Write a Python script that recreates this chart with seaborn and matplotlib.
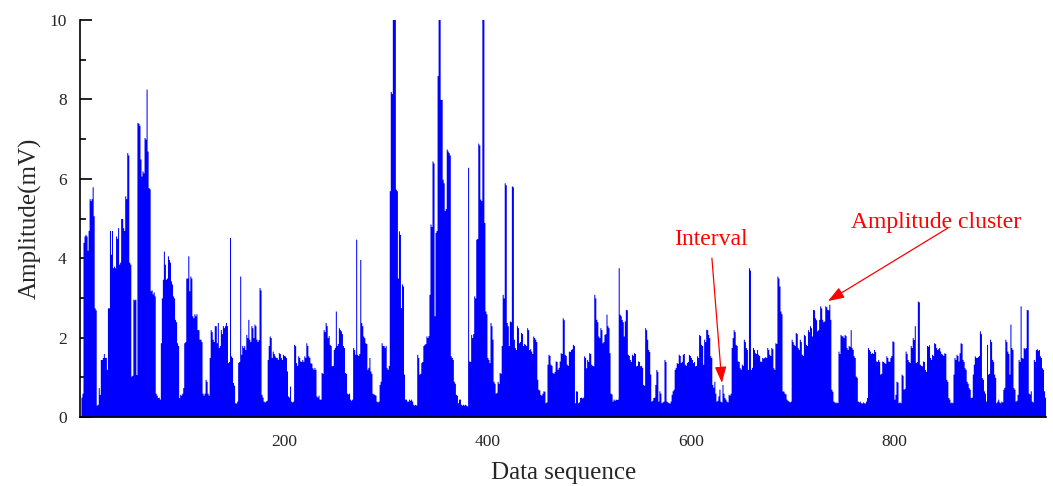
import numpy as np
import pandas as pd
import matplotlib
matplotlib.use("Agg")
import matplotlib.pyplot as plt
import seaborn as sns

# Pulse amplitudes (mV), one value per sample, in sequence order
amp_001_075 = [
    0.5, 0.6, 4.4, 4.56, 4.6, 4.56, 4.2, 4.7, 5.5, 5.45,
    5.5, 5.8, 5.07, 2.75, 2.7, 0.3, 0.32, 0.74, 0.57, 1.45,
    1.45, 1.5, 1.6, 1.5, 1.5, 1.2, 2.75, 2.75, 4.7, 4.1,
    4.7, 3.76, 3.8, 3.76, 4.56, 4.5, 4.77, 3.85, 3.9, 5.0,
    5.0, 4.77, 4.7, 5.57, 5.5, 6.66, 6.6, 3.9, 3.85, 1.03,
    1.05, 2.97, 2.95, 2.97, 1.07, 7.42, 7.4, 7.35, 6.5, 6.07,
    6.2, 6.15, 7.04, 7.0, 8.26, 6.7, 5.78, 5.75, 3.18, 3.2,
    3.1, 3.15, 3.05, 0.6, 0.55,
]
amp_076_156 = [
    0.49, 0.5, 0.45, 1.87, 3.0, 3.47, 4.18, 3.85, 3.47, 3.5,
    4.06, 3.97, 3.9, 3.43, 3.35, 3.05, 3.0, 2.46, 2.4, 1.87,
    1.8, 0.49, 0.57, 0.55, 0.6, 0.74, 1.87, 1.9, 3.5, 3.5,
    4.06, 3.18, 3.55, 3.5, 2.55, 2.5, 2.6, 2.55, 2.6, 2.2,
    2.2, 1.96, 1.96, 1.9, 0.6, 0.55, 0.6, 0.95, 0.9, 0.6,
    0.55, 1.5, 2.2, 2.15, 1.96, 1.9, 2.3, 2.3, 1.87, 2.38,
    1.75, 1.8, 2.2, 2.1, 2.3, 2.25, 2.3, 2.38, 2.3, 1.37,
    1.4, 4.52, 1.54, 1.5, 0.87, 0.8, 0.36, 0.35, 0.4, 1.37,
    1.4,
]
amp_157_234 = [
    3.55, 1.58, 1.8, 1.75, 1.8, 1.7, 2.08, 2.0, 2.46, 1.96,
    1.9, 2.3, 2.25, 2.0, 2.34, 2.3, 1.96, 1.9, 1.95, 3.26,
    3.2, 0.57, 0.5, 0.4, 0.38, 0.4, 0.42, 1.45, 1.8, 2.04,
    2.0, 1.5, 1.66, 1.6, 1.54, 1.5, 1.5, 1.45, 1.62, 1.6,
    1.5, 1.45, 1.58, 1.55, 1.54, 1.5, 1.16, 0.53, 0.5, 0.78,
    0.4, 0.38, 0.4, 1.83, 1.8, 1.37, 1.3, 1.54, 1.5, 1.41,
    1.4, 1.45, 1.4, 1.54, 1.5, 1.87, 1.8, 1.54, 1.5, 1.37,
    1.35, 1.24, 1.2, 1.25, 1.2, 0.53, 0.5, 0.55,
]
amp_235_319 = [
    0.45, 0.45, 1.12, 1.1, 2.2, 2.15, 2.38, 2.3, 2.0, 2.05,
    1.83, 1.8, 1.29, 1.3, 1.7, 1.75, 2.67, 1.8, 1.85, 2.25,
    2.2, 2.17, 2.1, 1.8, 1.75, 1.12, 1.1, 0.6, 0.58, 0.6,
    0.45, 0.42, 0.45, 1.75, 1.7, 1.58, 4.48, 1.58, 1.55, 1.6,
    3.97, 2.38, 2.3, 2.04, 2.0, 1.87, 1.85, 1.2, 1.25, 1.5,
    1.16, 1.1, 0.6, 0.58, 0.57, 0.55, 0.4, 0.38, 0.4, 0.82,
    0.9, 1.87, 1.8, 1.8, 1.75, 1.8, 1.24, 1.2, 1.3, 5.7,
    8.2, 8.15, 10.3, 10.3, 10.3, 5.74, 5.7, 3.5, 4.69, 4.6,
    2.76, 3.35, 3.3, 1.08, 0.45,
]
amp_320_392 = [
    0.45, 0.4, 0.4, 0.45, 0.42, 0.45, 0.4, 0.32, 0.3, 0.32,
    0.3, 1.58, 1.5, 1.08, 1.1, 1.37, 1.4, 1.8, 1.83, 1.85,
    2.04, 2.0, 2.05, 3.09, 4.86, 4.8, 6.45, 6.4, 2.55, 4.65,
    4.7, 8.6, 10.3, 10.3, 8.0, 8.0, 5.99, 5.9, 5.2, 5.25,
    6.75, 6.7, 6.66, 6.6, 1.54, 1.5, 1.45, 0.9, 0.85, 0.57,
    0.55, 0.36, 0.45, 0.45, 0.32, 0.3, 0.32, 0.3, 0.32, 0.3,
    0.28, 6.29, 1.41, 1.4, 2.08, 2.0, 2.1, 3.05, 3.0, 4.48,
    4.5, 6.9, 6.85,
]
amp_393_470 = [
    5.49, 5.45, 10.3, 10.3, 4.9, 2.67, 2.6, 1.5, 1.45, 1.37,
    2.38, 2.3, 1.96, 0.9, 0.85, 0.6, 0.62, 0.9, 0.85, 1.12,
    1.1, 1.8, 3.09, 3.0, 5.9, 5.85, 2.38, 2.3, 1.8, 2.42,
    2.4, 5.82, 5.8, 1.96, 1.75, 1.7, 2.3, 2.25, 1.87, 1.9,
    2.13, 2.1, 1.8, 1.85, 1.83, 1.8, 2.25, 2.2, 1.7, 1.72,
    1.66, 1.6, 2.04, 2.0, 1.96, 1.9, 0.95, 0.7, 0.68, 0.57,
    0.55, 0.6, 0.66, 0.65, 0.36, 0.38, 1.33, 1.58, 1.55, 1.33,
    1.3, 1.12, 1.1, 1.15, 1.41, 1.4, 1.2, 1.25,
]
amp_471_549 = [
    1.41, 1.62, 1.6, 2.5, 2.45, 1.58, 1.55, 1.33, 1.3, 1.66,
    1.65, 1.7, 1.72, 1.83, 1.8, 0.36, 0.66, 0.65, 0.36, 0.38,
    0.49, 0.5, 0.48, 0.5, 1.54, 1.5, 1.24, 1.45, 1.4, 1.62,
    1.6, 1.33, 1.3, 1.29, 3.09, 3.0, 2.46, 2.4, 2.04, 2.0,
    2.25, 2.2, 1.87, 1.9, 2.08, 2.1, 2.59, 2.3, 2.25, 1.62,
    0.6, 0.58, 0.4, 0.45, 0.42, 0.45, 0.44, 0.45, 3.76, 2.59,
    2.55, 2.46, 2.4, 2.04, 2.42, 2.71, 2.7, 1.58, 1.55, 1.45,
    1.4, 1.58, 1.55, 1.62, 1.6, 1.29, 1.3, 1.41, 1.4,
]
amp_550_627 = [
    1.29, 1.3, 1.25, 0.82, 0.8, 2.25, 2.2, 1.96, 1.7, 1.65,
    1.08, 0.4, 0.42, 0.49, 0.5, 0.82, 1.2, 1.15, 0.4, 0.66,
    0.6, 0.36, 0.38, 0.4, 1.45, 1.4, 0.4, 0.38, 0.36, 0.35,
    0.4, 0.57, 0.66, 0.7, 1.2, 1.25, 1.37, 1.35, 1.58, 1.55,
    1.37, 1.4, 1.58, 1.6, 1.33, 1.3, 1.37, 1.4, 1.58, 1.55,
    1.5, 1.45, 1.37, 1.4, 1.29, 1.3, 1.54, 1.5, 2.08, 2.05,
    1.83, 1.8, 1.33, 1.96, 1.9, 2.21, 2.2, 2.08, 2.0, 1.54,
    1.5, 0.82, 0.75, 0.9, 0.6, 0.4, 0.42, 0.53,
]
amp_628_706 = [
    0.7, 0.4, 0.38, 0.82, 0.6, 0.49, 0.45, 0.4, 0.38, 0.57,
    0.55, 0.6, 1.75, 2.0, 2.2, 2.15, 1.83, 1.8, 1.41, 1.4,
    1.24, 1.2, 1.33, 1.3, 1.96, 1.9, 1.75, 1.7, 1.2, 3.76,
    3.7, 1.2, 1.25, 1.75, 1.7, 1.62, 1.6, 1.7, 1.58, 1.55,
    1.41, 1.4, 1.5, 1.48, 1.5, 1.52, 1.5, 1.75, 1.7, 1.58,
    1.55, 1.75, 1.72, 1.24, 1.2, 1.87, 1.85, 3.55, 3.5, 3.3,
    2.67, 2.6, 0.66, 0.65, 0.6, 0.58, 0.45, 0.42, 0.4, 0.38,
    0.4, 1.96, 1.9, 1.83, 1.8, 2.13, 2.1, 1.75, 1.7,
]
amp_707_785 = [
    1.96, 1.9, 1.58, 1.55, 2.08, 2.05, 1.83, 1.8, 2.2, 2.15,
    2.3, 2.25, 2.04, 2.71, 2.7, 2.5, 2.45, 2.17, 2.2, 2.46,
    2.8, 2.75, 2.46, 2.4, 2.42, 2.8, 2.78, 2.71, 2.7, 2.84,
    2.46, 0.7, 0.65, 0.4, 0.38, 0.36, 0.38, 0.36, 1.66, 1.6,
    2.08, 2.05, 2.04, 2.0, 2.08, 2.05, 1.75, 1.7, 1.8, 1.78,
    2.2, 1.75, 1.7, 1.54, 1.5, 1.03, 1.0, 0.4, 0.38, 0.4,
    0.36, 0.35, 0.38, 0.36, 0.35, 0.4, 0.49, 1.75, 1.7, 1.66,
    1.6, 1.62, 1.6, 1.7, 1.65, 1.41, 1.4, 1.45, 1.4,
]
amp_786_863 = [
    1.08, 1.1, 1.41, 1.4, 1.37, 1.35, 1.54, 1.5, 1.41, 1.4,
    1.5, 1.55, 1.92, 1.9, 0.45, 0.57, 0.9, 0.88, 0.36, 0.38,
    0.36, 1.08, 1.05, 0.7, 0.72, 1.66, 1.6, 1.45, 1.4, 1.37,
    1.8, 1.75, 2.0, 1.95, 2.3, 1.37, 1.4, 2.92, 2.9, 1.33,
    1.3, 1.29, 1.41, 1.4, 1.2, 1.15, 1.8, 1.78, 1.82, 1.5,
    1.45, 1.58, 1.55, 1.87, 1.85, 1.75, 1.7, 1.72, 1.75, 1.66,
    1.6, 1.58, 1.55, 1.62, 1.6, 0.95, 0.9, 0.49, 0.45, 0.36,
    0.38, 0.36, 1.08, 1.5, 1.45, 1.58, 1.55, 1.41,
]
amp_864_948 = [
    1.62, 1.87, 1.85, 1.45, 1.4, 1.24, 1.2, 0.9, 0.85, 0.74,
    0.7, 0.49, 0.5, 1.08, 1.33, 1.54, 1.5, 1.5, 1.52, 1.55,
    2.17, 2.1, 0.99, 0.95, 0.66, 0.6, 0.4, 1.83, 1.08, 1.1,
    1.96, 1.9, 1.45, 1.4, 1.08, 1.0, 0.36, 0.4, 0.45, 0.38,
    0.36, 0.4, 0.38, 0.7, 0.75, 1.96, 1.9, 1.66, 1.6, 1.08,
    2.34, 1.75, 1.7, 0.74, 0.7, 0.4, 0.42, 0.57, 1.45, 1.4,
    2.8, 1.5, 1.48, 1.75, 1.72, 1.75, 2.71, 2.7, 0.6, 0.58,
    0.66, 0.4, 0.38, 1.45, 1.4, 1.7, 1.72, 1.68, 1.7, 1.54,
    1.5, 1.24, 1.2, 0.66, 0.5,
]

amplitude = np.concatenate([
    amp_001_075, amp_076_156, amp_157_234, amp_235_319, amp_320_392,
    amp_393_470, amp_471_549, amp_550_627, amp_628_706, amp_707_785,
    amp_786_863, amp_864_948,
])
sample = np.arange(1, len(amplitude) + 1)
df = pd.DataFrame({"sample": sample, "amplitude": amplitude})

x_major = [200, 400, 600, 800]
x_minor = [100, 300, 500, 700, 900]
y_major = [0, 2, 4, 6, 8, 10]
y_minor = [1, 3, 5, 7, 9]

sns.set_style("ticks")
plt.rcParams["font.family"] = ["Liberation Serif", "DejaVu Serif"]

fig = plt.figure(figsize=(10.53, 4.86), dpi=100)
ax = fig.add_axes([0.0764, 0.142, 0.9170, 0.8168])

# One step-filled column per sample, height given by its amplitude
sns.histplot(data=df, x="sample", weights="amplitude", discrete=True,
             element="step", fill=True, color="#0000FF", alpha=1.0,
             linewidth=0, ax=ax)

ax.set_xlim(0, 949)
ax.set_ylim(0, 10)
ax.set_xticks(x_major)
ax.set_xticks(x_minor, minor=True)
ax.set_yticks(y_major)
ax.set_yticks(y_minor, minor=True)
ax.set_xticklabels([str(v) for v in x_major])
ax.set_yticklabels([str(v) for v in y_major])

ax.tick_params(which="major", direction="in", length=8.6, width=1.2,
               labelsize=12.5, color="black")
ax.tick_params(which="minor", direction="in", length=4.3, width=1.2,
               color="black")
ax.tick_params(axis="y", which="major", pad=10)
ax.tick_params(axis="x", which="major", pad=12)

for side in ("top", "right"):
    ax.spines[side].set_visible(False)
for side in ("left", "bottom"):
    ax.spines[side].set_linewidth(1.2)
    ax.spines[side].set_color("black")

ax.set_xlabel("Data sequence", fontsize=18, labelpad=9)
ax.set_ylabel("Amplitude(mV)", fontsize=18, labelpad=5)

arrow = dict(arrowstyle="-|>,head_length=0.7,head_width=0.25",
             color="red", lw=0.9, mutation_scale=14, shrinkA=0, shrinkB=0)

ax.text(619.6, 4.46, "Interval", color="red", fontsize=17,
        ha="center", va="center")
ax.annotate("", xy=(630.4, 0.86), xytext=(620.6, 4.0), arrowprops=arrow)

ax.text(840.7, 4.91, "Amplitude cluster", color="red", fontsize=17,
        ha="center", va="center")
ax.annotate("", xy=(734.7, 2.92), xytext=(852.5, 4.76), arrowprops=arrow)

fig.savefig("out.png", dpi=100)
